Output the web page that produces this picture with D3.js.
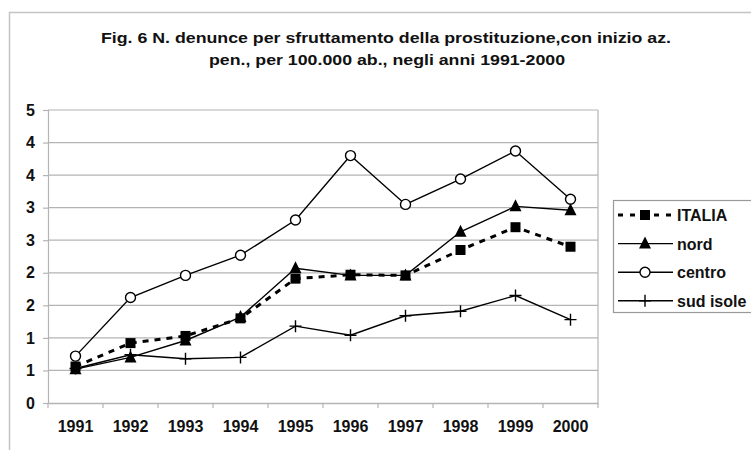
<!DOCTYPE html>
<html>
<head>
<script src="https://d3js.org/d3.v7.min.js"></script>
<style>
  body { margin: 0; background: #fff; }
  text { font-family: "Liberation Sans", Arial, sans-serif; font-weight: bold; fill: #111; }
</style>
</head>
<body>
<svg width="751" height="450"></svg>
<script>
// data
const years = ["1991","1992","1993","1994","1995","1996","1997","1998","1999","2000"];
const italia = [0.56, 0.92, 1.03, 1.30, 1.91, 1.97, 1.96, 2.35, 2.70, 2.40];
const nord   = [0.52, 0.70, 0.96, 1.32, 2.07, 1.96, 1.96, 2.63, 3.02, 2.96];
const centro = [0.72, 1.62, 1.96, 2.27, 2.81, 3.80, 3.05, 3.44, 3.87, 3.13];
const sud    = [0.53, 0.74, 0.68, 0.70, 1.18, 1.04, 1.34, 1.41, 1.65, 1.28];
const yTicks = [0, 0.5, 1, 1.5, 2, 2.5, 3, 3.5, 4, 4.5];
const yTickLabels = ["0","1","1","2","2","3","3","4","4","5"];
const seriesNames = ["ITALIA", "nord", "centro", "sud isole"];
const titleLines = ["Fig. 6 N. denunce per sfruttamento della prostituzione,con inizio az.",
                    "pen., per 100.000 ab., negli anni 1991-2000"];

const svg = d3.select("svg");
const grey = "#b4b4b4";

// outer chart frame
svg.append("rect").attr("x", 9.5).attr("y", 12.5).attr("width", 760).attr("height", 460)
   .attr("fill", "#fff").attr("stroke", "#c4c4c4").attr("stroke-width", 1.5);

// title
svg.append("text").attr("x", 386).attr("y", 43).attr("text-anchor", "middle")
   .attr("font-size", 15).attr("textLength", 570).attr("lengthAdjust", "spacingAndGlyphs")
   .text(titleLines[0]);
svg.append("text").attr("x", 387).attr("y", 65).attr("text-anchor", "middle")
   .attr("font-size", 15).attr("textLength", 356).attr("lengthAdjust", "spacingAndGlyphs")
   .text(titleLines[1]);

const x = d3.scaleBand().domain(years).range([48, 598]).padding(0);
const y = d3.scaleLinear().domain([0, 4.5]).range([403, 110]);
const cx = d => x(d) + x.bandwidth() / 2;

// grid lines
svg.append("g").selectAll("line").data(yTicks.slice(1)).join("line")
   .attr("x1", 48).attr("x2", 598)
   .attr("y1", d => y(d)).attr("y2", d => y(d))
   .attr("stroke", grey).attr("stroke-width", 1.2);

// plot area right border
svg.append("line").attr("x1", 598).attr("x2", 598).attr("y1", y(4.5)).attr("y2", y(0))
   .attr("stroke", grey).attr("stroke-width", 1.2);

// y axis
const yAxis = svg.append("g").attr("transform", "translate(48,0)")
   .call(d3.axisLeft(y).tickValues(yTicks).tickSize(5).tickPadding(8)
         .tickFormat((d, i) => yTickLabels[i]));
yAxis.select(".domain").attr("stroke", grey).attr("stroke-width", 1.2);
yAxis.selectAll(".tick line").attr("stroke", grey).attr("stroke-width", 1.2);
yAxis.selectAll("text").attr("font-size", 16).attr("font-family", null).attr("fill", "#111");

// x axis
const xAxis = svg.append("g").attr("transform", "translate(0,403)")
   .call(d3.axisBottom(x).tickSize(0).tickPadding(18));
xAxis.select(".domain").attr("stroke", grey).attr("stroke-width", 1.5);
xAxis.selectAll("text").attr("font-size", 16).attr("font-family", null).attr("fill", "#111");
// tick marks at band boundaries
svg.append("g").selectAll("line").data(years.concat(["end"])).join("line")
   .attr("x1", (d, i) => 48 + i * x.bandwidth()).attr("x2", (d, i) => 48 + i * x.bandwidth())
   .attr("y1", 403).attr("y2", 408).attr("stroke", grey).attr("stroke-width", 1.2);

const line = d3.line().x((d, i) => cx(years[i])).y(d => y(d));

const series = [
  { name: seriesNames[0], values: italia, marker: "square", dash: "6,6", width: 3 },
  { name: seriesNames[1], values: nord, marker: "triangle", dash: null, width: 1.4 },
  { name: seriesNames[2], values: centro, marker: "circle", dash: null, width: 1.4 },
  { name: seriesNames[3], values: sud, marker: "plus", dash: null, width: 1.4 }
];

function drawMarker(g, type, px, py) {
  if (type === "square") {
    g.append("rect").attr("x", px - 5).attr("y", py - 5).attr("width", 10).attr("height", 10)
     .attr("fill", "#000");
  } else if (type === "triangle") {
    g.append("path").attr("d", `M${px},${py - 7}L${px + 6},${py + 5}L${px - 6},${py + 5}Z`)
     .attr("fill", "#000");
  } else if (type === "circle") {
    g.append("circle").attr("cx", px).attr("cy", py).attr("r", 5)
     .attr("fill", "#fff").attr("stroke", "#000").attr("stroke-width", 1.4);
  } else if (type === "plus") {
    g.append("path").attr("d", `M${px - 6},${py}H${px + 6}M${px},${py - 6}V${py + 6}`)
     .attr("stroke", "#000").attr("stroke-width", 1.4);
  }
}

// draw order: sud, centro, nord, italia (italia on top)
[3, 2, 1, 0].forEach(k => {
  const s = series[k];
  const g = svg.append("g");
  g.append("path").datum(s.values).attr("d", line).attr("fill", "none")
   .attr("stroke", "#000").attr("stroke-width", s.width)
   .attr("stroke-dasharray", s.dash);
  s.values.forEach((v, i) => drawMarker(g, s.marker, cx(years[i]), y(v)));
});

// legend
const leg = svg.append("g");
leg.append("rect").attr("x", 613.5).attr("y", 200.5).attr("width", 150).attr("height", 112)
   .attr("fill", "#fff").attr("stroke", "#999").attr("stroke-width", 1.2);
series.forEach((s, i) => {
  const ly = 215 + i * 28.6;
  leg.append("line").attr("x1", 618).attr("x2", 673).attr("y1", ly).attr("y2", ly)
     .attr("stroke", "#000").attr("stroke-width", s.width).attr("stroke-dasharray", s.dash ? "5,7" : null);
  drawMarker(leg, s.marker, 645, ly);
  leg.append("text").attr("x", 677).attr("y", ly + 6).attr("font-size", 16).text(s.name);
});
</script>
</body>
</html>
